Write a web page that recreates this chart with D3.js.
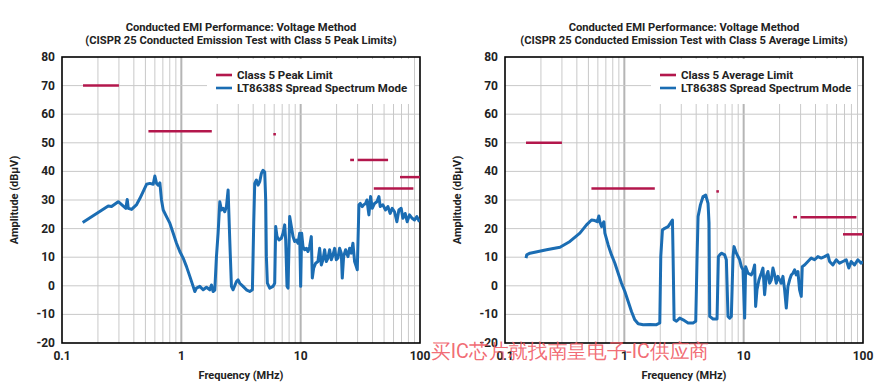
<!DOCTYPE html>
<html><head><meta charset="utf-8">
<script src="https://cdn.jsdelivr.net/npm/d3@7"></script>
<style>body{margin:0;background:#fff}svg{display:block}text{font-family:Roboto,"Noto Sans",sans-serif}</style>
</head><body><svg id="c" width="883" height="390"></svg>
<script>
const xTicks = [0.1, 1, 10, 100];
const xTickLabels = ["0.1", "1", "10", "100"];
const yTicks = [-20, -10, 0, 10, 20, 30, 40, 50, 60, 70, 80];
const minorFreqs = [0.2,0.3,0.4,0.5,0.6,0.7,0.8,0.9,2,3,4,5,6,7,8,9,20,30,40,50,60,70,80,90];

const peakTitle = ["Conducted EMI Performance: Voltage Method", "(CISPR 25 Conducted Emission Test with Class 5 Peak Limits)"];
const avgTitle = ["Conducted EMI Performance: Voltage Method", "(CISPR 25 Conducted Emission Test with Class 5 Average Limits)"];
const peakLegend = ["Class 5 Peak Limit", "LT8638S Spread Spectrum Mode"];
const avgLegend = ["Class 5 Average Limit", "LT8638S Spread Spectrum Mode"];

// limit segments: start MHz, end MHz, level dBuV
const peakLimitStart = [0.15, 0.53, 5.9, 26, 30, 41, 68];
const peakLimitEnd   = [0.30, 1.8, 6.2, 28, 54, 88, 100];
const peakLimitLevel = [70, 54, 53, 44, 44, 34, 38];
const avgLimitStart = [0.15, 0.53, 5.9, 26, 30, 68];
const avgLimitEnd   = [0.30, 1.8, 6.2, 28, 88, 100];
const avgLimitLevel = [50, 34, 33, 24, 24, 18];

// measured spectrum (peak) : frequency MHz, amplitude dBuV
const peakFreq = [0.149,0.244,0.260,0.296,0.343,0.352,0.359,0.383,0.422,0.449,0.511,0.545,0.581,0.600,0.620,0.640,0.661,0.682,0.705,0.751,0.801,0.855,0.911,0.971,1.036,1.105,1.178,1.256,1.297,1.339,1.428,1.523,1.624,1.732,1.788,1.847,1.907,1.969,2.033,2.100,2.169,2.239,2.312,2.388,2.466,2.546,2.629,2.715,2.895,2.989,3.087,3.291,3.510,3.743,3.940,4.043,4.121,4.256,4.395,4.538,4.686,4.839,4.997,5.094,5.160,5.261,5.503,5.867,6.059,6.177,6.338,6.587,6.890,7.115,7.347,7.490,7.685,7.834,8.090,8.354,8.627,8.909,9.199,9.500,9.808,10.0,10.19,10.46,10.80,11.15,11.52,11.89,12.28,12.52,12.85,13.35,13.96,14.42,14.89,15.38,15.88,16.40,16.93,17.48,18.06,18.65,19.26,19.89,20.53,21.20,21.90,22.32,22.90,23.80,24.90,25.70,26.55,27.41,28.31,29.24,29.81,30.78,31.58,32.81,33.67,34.99,35.91,37.31,38.53,39.79,41.61,43.53,45.24,46.42,48.87,51.45,53.81,56.28,58.49,61.17,64.00,66.51,69.56,71.83,75.14,78.08,81.67,86.00,89.95,94.08,99.0];
const peakAmp = [22.1,27.9,27.7,29.4,27.1,30.2,27.1,26.7,28.4,30.5,35.5,35.8,35.5,38.4,35.8,35.2,36.0,30.0,26.5,24.2,21.9,18.4,14.9,12.0,9.7,6.7,3.3,-0.2,-2.0,-0.8,-0.2,-1.4,-0.5,-1.4,0.3,-2.0,-1.5,10.2,18.4,29.4,26.5,27.1,25.9,27.7,33.5,16.0,-0.2,-1.4,1.5,2.1,0.9,-0.2,-1.4,-2.0,-1.4,21.9,35.8,37.0,35.2,36.4,39.3,40.4,39.8,30.0,10.2,0.9,-0.8,-0.2,0.9,20.7,17.2,16.0,16.6,18.4,21.3,16.0,-0.2,-0.8,24.2,20.7,17.2,15.5,16.0,14.9,18.4,-0.2,18.4,13.7,12.6,13.1,12.0,13.7,17.2,2.7,6.2,7.9,8.5,13.1,7.3,9.1,12.6,8.5,9.7,12.6,9.1,10.8,13.1,9.1,9.7,13.1,11.4,2.7,10.2,12.6,10.2,13.1,11.4,14.9,8.5,6.7,5.6,28.3,28.8,27.7,28.3,28.8,30.0,24.8,31.2,27.1,28.8,29.4,31.2,27.7,28.3,26.5,27.7,25.3,27.1,25.9,22.4,26.5,27.1,23.6,25.3,22.4,24.8,23.6,23.0,24.2,22.4];

// measured spectrum (average)
const avgFreq = [0.150,0.152,0.162,0.223,0.289,0.350,0.424,0.482,0.531,0.566,0.593,0.612,0.624,0.644,0.674,0.687,0.732,0.781,0.833,0.888,0.947,1.010,1.077,1.148,1.224,1.306,1.438,1.635,1.859,1.982,2.020,2.086,2.182,2.327,2.434,2.530,2.562,2.612,2.733,2.914,3.108,3.421,3.767,3.966,4.070,4.149,4.340,4.568,4.808,5.029,5.127,5.194,5.538,5.982,6.138,6.298,6.503,6.934,7.160,7.394,7.635,7.884,8.141,8.300,8.682,9.258,9.561,9.872,10.19,10.39,10.87,11.59,11.97,12.36,12.60,12.93,13.44,14.05,14.51,14.98,15.48,15.98,16.51,17.04,17.60,18.17,18.77,19.38,20.01,20.67,21.34,22.04,22.76,23.50,24.27,25.06,25.87,26.72,27.59,28.49,29.42,30.38,30.97,32.39,34.54,36.84,39.28,41.88,44.66,47.63,50.79,52.45,55.93,59.64,63.60,67.82,72.32,76.11,79.61,84.91,90.54,96.54,100];
const avgAmp = [9.7,10.8,11.4,12.6,13.5,15.5,18.4,21.3,23.0,22.8,22.4,24.4,22.4,20.7,22.4,18.4,14.3,10.8,7.9,4.4,0.9,-2.0,-5.5,-9.0,-11.9,-13.3,-13.6,-13.5,-13.6,-13.0,10.2,19.5,20.1,20.7,21.9,23.0,10.2,-11.9,-12.4,-11.3,-11.9,-13.0,-13.0,-12.4,10.2,24.2,28.3,31.2,31.7,28.8,21.9,-10.7,-11.6,-11.6,10.2,10.8,11.4,10.8,9.1,-10.7,-11.3,-10.7,10.2,13.7,11.4,9.1,6.7,5.6,-11.3,6.7,4.4,3.8,5.0,7.3,-7.2,-1.4,2.1,4.4,6.2,-3.1,3.3,5.0,0.9,2.1,6.2,3.8,0.9,3.3,2.1,0.9,3.3,-1.4,-7.8,-0.2,2.1,3.8,4.4,5.6,3.8,5.0,-1.4,-3.7,6.7,7.3,8.5,9.7,9.1,10.2,9.7,10.2,10.8,8.5,7.3,9.1,7.9,8.5,9.1,6.2,8.5,7.3,9.1,7.9,8.5];

const svg = d3.select("#c");
const blue = "#1b6db3", red = "#b3174c", grid = "#c9c9c9";

function chart(opt){
  const x = d3.scaleLog().domain([0.1,100]).range([opt.x0, opt.x1]);
  const y = d3.scaleLinear().domain([-20,80]).range([343,57]);
  const g = svg.append("g");
  const cid = "clip"+opt.id;
  g.append("clipPath").attr("id",cid).append("rect")
    .attr("x",opt.x0).attr("y",57).attr("width",opt.x1-opt.x0).attr("height",286);
  g.selectAll(".vm").data(minorFreqs).join("line")
    .attr("x1",d=>x(d)).attr("x2",d=>x(d)).attr("y1",57).attr("y2",343)
    .attr("stroke",grid).attr("stroke-width",1);
  g.selectAll(".vM").data([1,10]).join("line")
    .attr("x1",d=>x(d)).attr("x2",d=>x(d)).attr("y1",57).attr("y2",343)
    .attr("stroke","#b5b5b5").attr("stroke-width",2);
  g.selectAll(".h").data(yTicks.slice(1,-1)).join("line")
    .attr("x1",opt.x0).attr("x2",opt.x1).attr("y1",d=>y(d)).attr("y2",d=>y(d))
    .attr("stroke",grid).attr("stroke-width",1);
  g.append("rect").attr("x",opt.lx-9).attr("y",59).attr("width",opt.x1-6-(opt.lx-9)).attr("height",45).attr("fill","#fff");
  g.append("rect").attr("x",opt.x0).attr("y",57).attr("width",opt.x1-opt.x0).attr("height",286)
    .attr("fill","none").attr("stroke","#000").attr("stroke-width",1.6);
  const lg = g.append("g").attr("clip-path",`url(#${cid})`);
  lg.selectAll("line").data(opt.ls.map((s,i)=>[s,opt.le[i],opt.lv[i]])).join("line")
    .attr("x1",d=>x(d[0])).attr("x2",d=>x(d[1])).attr("y1",d=>y(d[2])).attr("y2",d=>y(d[2]))
    .attr("stroke",red).attr("stroke-width",2.5);
  const line = d3.line().x(d=>x(d[0])).y(d=>y(d[1]));
  lg.append("path").datum(opt.f.map((f,i)=>[f,opt.a[i]]))
    .attr("d",line).attr("fill","none").attr("stroke",blue).attr("stroke-width",3)
    .attr("stroke-linejoin","round");
  g.selectAll(".yt").data(yTicks).join("text")
    .attr("x",opt.x0-7).attr("y",d=>y(d)+4).attr("text-anchor","end")
    .attr("font-size",12).attr("font-weight",700).attr("fill","#222").text(d=>d);
  g.selectAll(".xt").data(xTicks).join("text")
    .attr("x",d=>x(d)).attr("y",360).attr("text-anchor","middle")
    .attr("font-size",12).attr("font-weight",700).attr("fill","#222").text((d,i)=>xTickLabels[i]);
  const cx = (opt.x0+opt.x1)/2;
  g.append("text").attr("x",cx).attr("y",379).attr("text-anchor","middle")
    .attr("font-size",11).attr("font-weight",700).attr("fill","#222").text("Frequency (MHz)");
  g.append("text").attr("transform",`translate(${opt.x0-44},200) rotate(-90)`).attr("text-anchor","middle")
    .attr("font-size",11).attr("font-weight",700).attr("fill","#222").text("Amplitude (dBμV)");
  g.selectAll(".tt").data(opt.title).join("text")
    .attr("x",cx).attr("y",(d,i)=>31+i*12.5).attr("text-anchor","middle")
    .attr("font-size",11.2).attr("font-weight",700).attr("fill","#222").text(d=>d);
  const cols=[red,blue];
  opt.leg.forEach((t,i)=>{
    g.append("line").attr("x1",opt.lx).attr("x2",opt.lx+16).attr("y1",75+i*13).attr("y2",75+i*13)
      .attr("stroke",cols[i]).attr("stroke-width",2.6);
    g.append("text").attr("x",opt.lx+21).attr("y",79+i*13).attr("font-size",11.5).attr("font-weight",700)
      .attr("fill","#222").text(t);
  });
}
chart({id:1,x0:62,x1:420,title:peakTitle,leg:peakLegend,lx:216,ls:peakLimitStart,le:peakLimitEnd,lv:peakLimitLevel,f:peakFreq,a:peakAmp});
chart({id:2,x0:505,x1:863,title:avgTitle,leg:avgLegend,lx:660,ls:avgLimitStart,le:avgLimitEnd,lv:avgLimitLevel,f:avgFreq,a:avgAmp});

svg.append("text").attr("x",431).attr("y",358).attr("font-size",20)
  .attr("font-family","'Noto Sans CJK SC',sans-serif").attr("fill","#ef5a64").attr("fill-opacity",0.9)
  .attr("textLength",278).attr("lengthAdjust","spacingAndGlyphs").text("买IC芯片就找南皇电子-IC供应商");
</script></body></html>
